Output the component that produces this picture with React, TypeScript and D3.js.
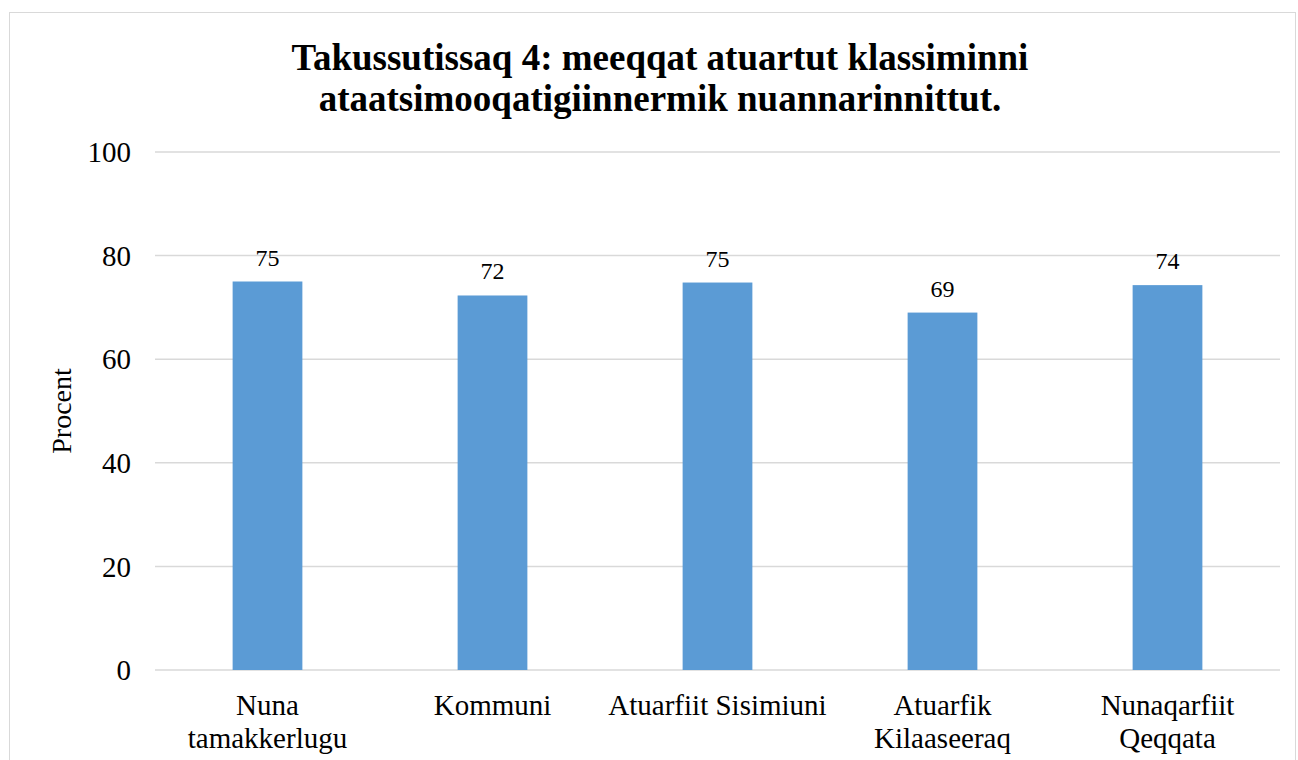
import React from 'react';
import * as d3 from 'd3';

const categories = ['Nuna tamakkerlugu', 'Kommuni', 'Atuarfiit Sisimiuni', 'Atuarfik Kilaaseeraq', 'Nunaqarfiit Qeqqata'];
const categoryLines = [['Nuna', 'tamakkerlugu'], ['Kommuni'], ['Atuarfiit Sisimiuni'], ['Atuarfik', 'Kilaaseeraq'], ['Nunaqarfiit', 'Qeqqata']];
const values = [75.0, 72.3, 74.8, 69.0, 74.3];
const valueLabels = ['75', '72', '75', '69', '74'];
const yTicks = [0, 20, 40, 60, 80, 100];
const titleLines = ['Takussutissaq 4: meeqqat atuartut klassiminni', 'ataatsimooqatigiinnermik nuannarinnittut.'];
const yTitle = 'Procent';

const width = 1298;
const height = 760;
const margin = { left: 155, right: 18, top: 152, bottom: 90 };
const font = '"Liberation Serif", "Times New Roman", serif';

const App = () => {
  const x = d3.scaleBand()
    .domain(categories)
    .range([margin.left, width - margin.right])
    .paddingInner(0.69)
    .paddingOuter(0.345);

  const y = d3.scaleLinear()
    .domain([0, 100])
    .range([height - margin.bottom, margin.top]);

  return (
    <svg width={width} height={height} style={{ position: 'absolute', left: 0, top: 0 }} fontFamily={font}>
      <rect x={0} y={0} width={width} height={height} fill="#fff" />
      <rect x={9.5} y={12.5} width={1286} height={760} fill="none" stroke="#d9d9d9" />

      {titleLines.map((t, i) => (
        <text key={t} x={660} y={70 + i * 41} textAnchor="middle" fontSize={37} fontWeight="bold" fill="#000">{t}</text>
      ))}

      {yTicks.map(t => (
        <g key={t}>
          <line x1={margin.left} x2={width - margin.right} y1={y(t)} y2={y(t)} stroke="#d9d9d9" strokeWidth={1.5} />
          <text x={131} y={y(t)} dy="0.35em" textAnchor="end" fontSize={29} fill="#000">{t}</text>
        </g>
      ))}

      <text transform={`translate(71,${(y(0) + y(100)) / 2}) rotate(-90)`} textAnchor="middle" fontSize={28} fill="#000">{yTitle}</text>

      {categories.map((c, i) => (
        <g key={c}>
          <rect x={x(c)} y={y(values[i])} width={x.bandwidth()} height={y(0) - y(values[i])} fill="#5b9bd5" />
          <text x={x(c)! + x.bandwidth() / 2} y={y(values[i]) - 16} textAnchor="middle" fontSize={24} fill="#000">{valueLabels[i]}</text>
          {categoryLines[i].map((l, j) => (
            <text key={l} x={x(c)! + x.bandwidth() / 2} y={715 + j * 33} textAnchor="middle" fontSize={29} fill="#000">{l}</text>
          ))}
        </g>
      ))}
    </svg>
  );
};

export default App;
